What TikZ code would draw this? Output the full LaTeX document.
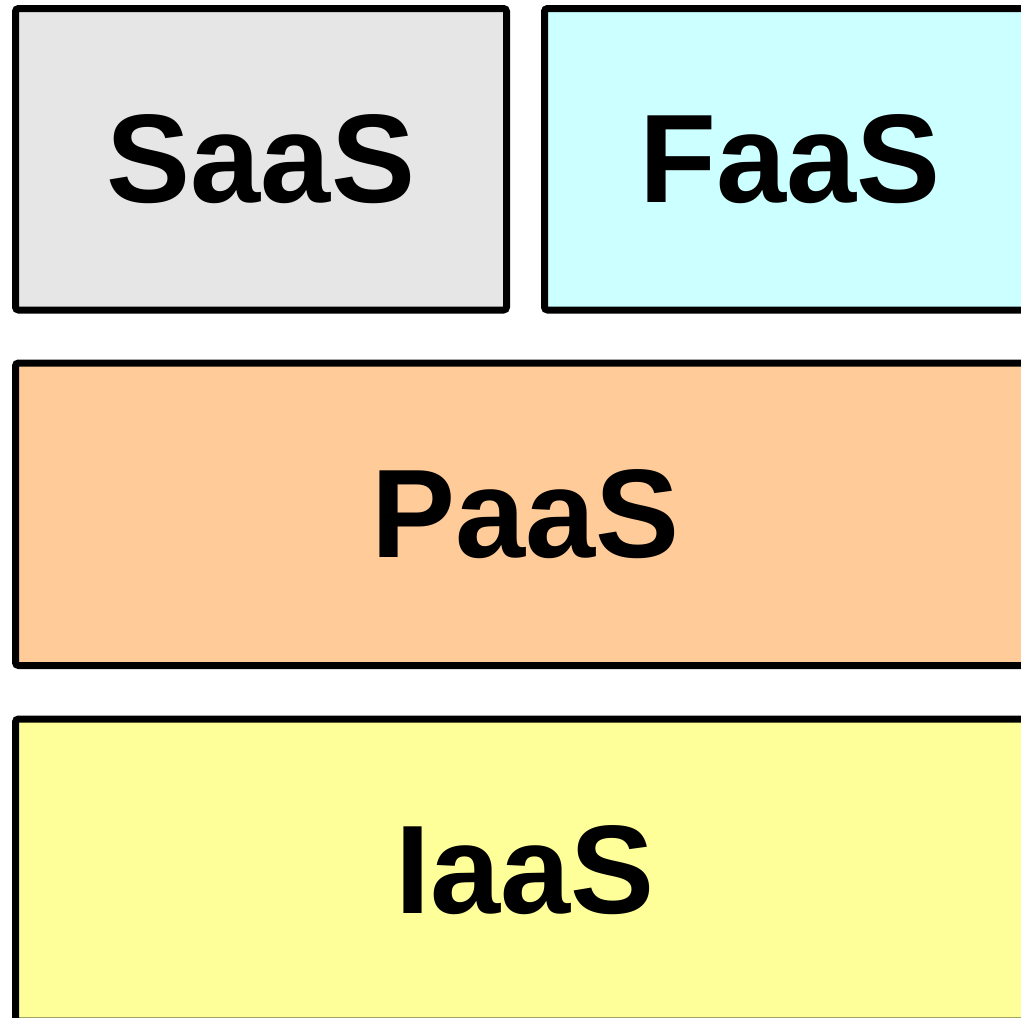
\documentclass[tikz,border=0pt]{standalone}
\usepackage{fontspec}
\setmainfont{Liberation Sans}
\begin{document}
\begin{tikzpicture}[x=1pt,y=-1pt,
  layer/.style={draw=black, line width=7pt, rounded corners=3pt, inner sep=0pt,
    font=\fontsize{126}{126}\selectfont\bfseries, text=black}]
\useasboundingbox (0,0) rectangle (1021,1018);
\clip (0,0) rectangle (1021,1018);
\node[layer, fill={rgb,255:red,230;green,230;blue,230}, minimum width=491pt, minimum height=301.5pt] (saas) at (261,159.25) {SaaS};
\node[layer, fill={rgb,255:red,204;green,255;blue,255}, minimum width=491pt, minimum height=301.5pt] (faas) at (790,159.25) {FaaS};
\node[layer, fill={rgb,255:red,255;green,204;blue,153}, minimum width=1019.5pt, minimum height=302.5pt] (paas) at (525.25,514.25) {PaaS};
\node[layer, fill={rgb,255:red,255;green,255;blue,153}, minimum width=1019.5pt, minimum height=302pt] (iaas) at (525.25,870) {IaaS};
\end{tikzpicture}
\end{document}
